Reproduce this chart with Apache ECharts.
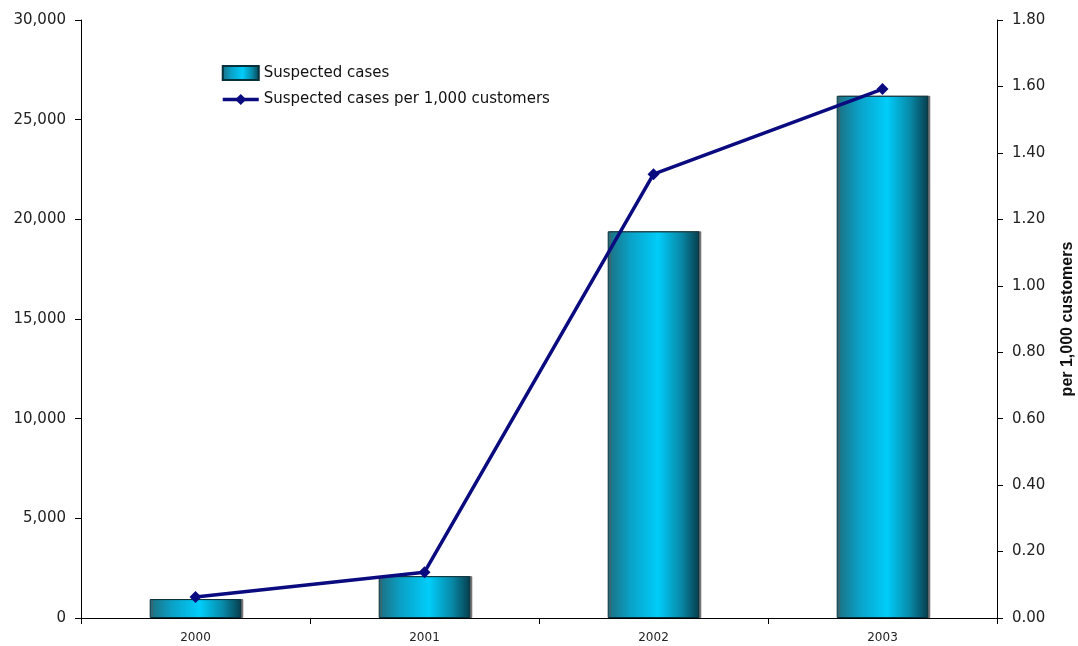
<!DOCTYPE html>
<html>
<head>
<meta charset="utf-8">
<script src="https://cdn.jsdelivr.net/npm/echarts@6/dist/echarts.min.js"></script>
<style>
  html, body { margin: 0; padding: 0; background: #fff; }
  #chart { width: 1078px; height: 646px; }
</style>
</head>
<body>
<div id="chart"></div>
<script>
// Years on the category axis
const years = ['2000', '2001', '2002', '2003'];
// Number of suspected cases per year (left axis)
const suspectedCases = [950, 2100, 19400, 26200];
// Suspected cases per 1,000 customers (right axis)
const casesPer1000 = [0.063, 0.138, 1.336, 1.592];

const leftTicks = { min: 0, max: 30000, interval: 5000 };
const rightTicks = { min: 0, max: 1.8, interval: 0.2 };

const fontFam = '"DejaVu Sans", sans-serif';

// Cylinder-like shading across each bar
const barFill = new echarts.graphic.LinearGradient(0, 0, 1, 0, [
  { offset: 0, color: '#1d6e80' },
  { offset: 0.25, color: '#0aa2c8' },
  { offset: 0.55, color: '#00cdfa' },
  { offset: 0.8, color: '#0889a8' },
  { offset: 1, color: '#073d4c' }
]);

const lineColor = '#0b0b80';

const chart = echarts.init(document.getElementById('chart'));
chart.setOption({
  animation: false,
  backgroundColor: '#ffffff',
  grid: { left: 81, right: 81, top: 20, bottom: 28, outerBoundsMode: 'none', containLabel: false },
  legend: {
    orient: 'vertical',
    left: 216,
    top: 60,
    itemWidth: 36,
    itemHeight: 14,
    itemGap: 11,
    textStyle: { fontFamily: fontFam, fontSize: 15, color: '#111' },
    data: [
      { name: 'Suspected cases', icon: 'rect' },
      { name: 'Suspected cases per 1,000 customers', lineStyle: { width: 3.5, color: lineColor } }
    ]
  },
  xAxis: {
    type: 'category',
    data: years,
    axisLine: { lineStyle: { color: '#000', width: 1 } },
    axisTick: { show: true, length: 6, inside: false, lineStyle: { color: '#000' } },
    axisLabel: { fontFamily: fontFam, fontSize: 12, color: '#222', margin: 14 }
  },
  yAxis: [
    {
      type: 'value',
      min: leftTicks.min, max: leftTicks.max, interval: leftTicks.interval,
      position: 'left',
      splitLine: { show: false },
      axisLine: { show: true, lineStyle: { color: '#000' } },
      axisTick: { show: true, length: 6, lineStyle: { color: '#000' } },
      axisLabel: {
        fontFamily: fontFam, fontSize: 15, color: '#222', margin: 15,
        formatter: v => v.toLocaleString('en-US')
      }
    },
    {
      type: 'value',
      min: rightTicks.min, max: rightTicks.max, interval: rightTicks.interval,
      position: 'right',
      splitLine: { show: false },
      axisLine: { show: true, lineStyle: { color: '#000' } },
      axisTick: { show: true, length: 6, lineStyle: { color: '#000' } },
      axisLabel: {
        fontFamily: fontFam, fontSize: 15, color: '#222', margin: 15,
        formatter: v => v.toFixed(2)
      },
      name: 'per 1,000 customers',
      nameLocation: 'middle',
      nameRotate: 90,
      nameGap: 63,
      nameTextStyle: {
        fontFamily: '"Liberation Sans Narrow", "Liberation Sans", sans-serif',
        fontWeight: 'bold', fontSize: 16, color: '#111'
      }
    }
  ],
  series: [
    {
      name: 'Suspected cases',
      type: 'bar',
      yAxisIndex: 0,
      data: suspectedCases,
      barWidth: '40%',
      itemStyle: {
        color: barFill,
        borderColor: '#06303c',
        borderWidth: 1,
        shadowColor: 'rgba(90,90,90,0.8)',
        shadowOffsetX: 2,
        shadowOffsetY: 0,
        shadowBlur: 0
      }
    },
    {
      name: 'Suspected cases per 1,000 customers',
      type: 'line',
      yAxisIndex: 1,
      data: casesPer1000,
      symbol: 'diamond',
      symbolSize: 12,
      lineStyle: { color: lineColor, width: 3.5 },
      itemStyle: { color: lineColor },
      z: 5
    }
  ]
});
</script>
</body>
</html>
